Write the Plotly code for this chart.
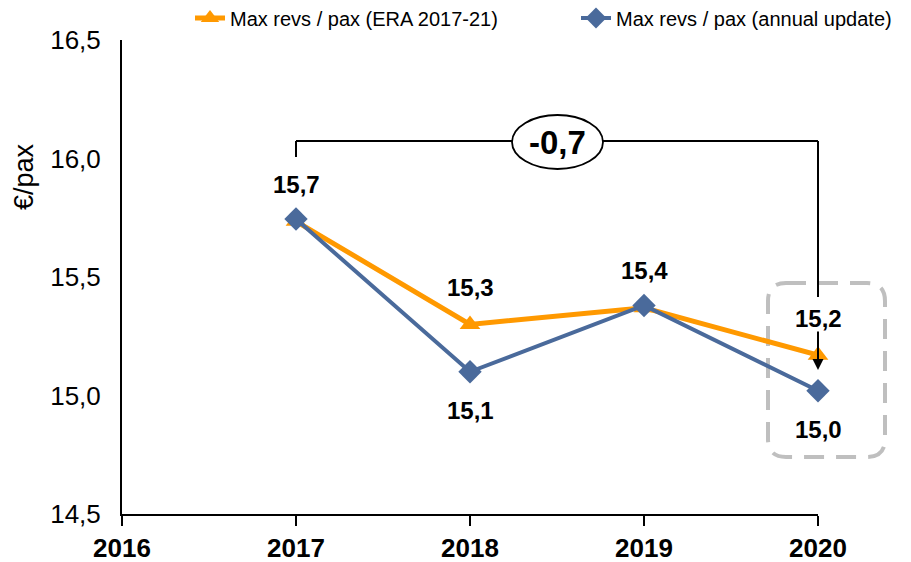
import plotly.graph_objects as go

# ---- data ----
years = [2017, 2018, 2019, 2020]
era_values = [15.735, 15.30, 15.37, 15.17]
annual_values = [15.745, 15.10, 15.38, 15.02]
era_name = "Max revs / pax (ERA 2017-21)"
annual_name = "Max revs / pax (annual update)"
x_ticks = [2016, 2017, 2018, 2019, 2020]
y_ticks = [14.5, 15.0, 15.5, 16.0, 16.5]
delta_text = "-0,7"

ORANGE = "#FF9900"
BLUE = "#4A6A9B"
GREY = "#BFBFBF"
FONT = "Liberation Sans, Arial, sans-serif"
X_RANGE = [2016, 2020]
Y_RANGE = [14.5, 16.5]

W, H = 911, 562
PL, PR, PT, PB = 122, 818, 40, 514  # plot area in pixels
PW, PH = PR - PL, PB - PT


def fmt(v):
    return f"{v:.1f}".replace(".", ",")


def xpix(v):
    return PL + (v - X_RANGE[0]) / (X_RANGE[1] - X_RANGE[0]) * PW


def px(p):  # pixel x -> paper (plot area)
    return (p - PL) / PW


def py(p):  # pixel y (from top) -> paper (plot area)
    return (PB - p) / PH


fig = go.Figure()
fig.add_trace(go.Scatter(
    x=years, y=era_values, name=era_name, mode="lines+markers",
    line=dict(color=ORANGE, width=5),
    marker=dict(symbol="triangle-up", size=18, color=ORANGE),
    cliponaxis=False, legend="legend",
))
fig.add_trace(go.Scatter(
    x=years, y=annual_values, name=annual_name, mode="lines+markers",
    line=dict(color=BLUE, width=4),
    marker=dict(symbol="diamond", size=18, color=BLUE),
    cliponaxis=False, legend="legend2",
))

label_font = dict(family=FONT, size=24, color="black")
annotations = []
for i, (x, v) in enumerate(zip(years, era_values)):
    annotations.append(dict(x=x, y=v, xref="x", yref="y", text=f"<b>{fmt(v)}</b>",
                            showarrow=False, yshift=37, xanchor="center", yanchor="middle",
                            font=label_font))
for i, (x, v) in enumerate(zip(years, annual_values)):
    if i in (1, 3):
        annotations.append(dict(x=x, y=v, xref="x", yref="y", text=f"<b>{fmt(v)}</b>",
                                showarrow=False, yshift=-39, xanchor="center", yanchor="middle",
                                font=label_font))

# bracket between 2017 and 2020
bracket_px = 141
x17, x20 = xpix(years[0]), xpix(years[-1])
shapes = []
shapes.append(dict(type="line", xref="paper", yref="paper",
                   x0=px(x17), x1=px(x17), y0=py(bracket_px), y1=py(bracket_px + 16),
                   line=dict(color="black", width=2)))
shapes.append(dict(type="line", xref="paper", yref="paper",
                   x0=px(x17), x1=px(x20), y0=py(bracket_px), y1=py(bracket_px),
                   line=dict(color="black", width=2)))
shapes.append(dict(type="line", xref="paper", yref="paper",
                   x0=px(x20), x1=px(x20), y0=py(bracket_px), y1=py(297),
                   line=dict(color="black", width=2)))
# ellipse with delta
ecx, ecy = 557, bracket_px + 1
shapes.append(dict(type="circle", xref="paper", yref="paper",
                   x0=px(ecx - 45), x1=px(ecx + 46), y0=py(ecy + 27), y1=py(ecy - 27),
                   line=dict(color="black", width=1.8), fillcolor="white"))
annotations.append(dict(x=px(ecx), y=py(ecy), xref="paper", yref="paper", text=f"<b>{delta_text}</b>",
                        showarrow=False, xanchor="center", yanchor="middle",
                        font=dict(family=FONT, size=33, color="black")))
# arrow pointing to the 2020 ERA value
annotations.append(dict(x=px(x20), y=py(370), xref="paper", yref="paper", text="",
                        showarrow=True, arrowhead=2, arrowsize=1.1, arrowwidth=2, arrowcolor="black",
                        ax=0, ay=-40, standoff=0))

# dashed rounded rectangle around 2020 values
bx0, bx1, by0, by1 = x20 - 50, x20 + 67, 283, 457
r = 18
path = (f"M {px(bx0 + r)},{py(by0)} L {px(bx1 - r)},{py(by0)} Q {px(bx1)},{py(by0)} {px(bx1)},{py(by0 + r)} "
        f"L {px(bx1)},{py(by1 - r)} Q {px(bx1)},{py(by1)} {px(bx1 - r)},{py(by1)} "
        f"L {px(bx0 + r)},{py(by1)} Q {px(bx0)},{py(by1)} {px(bx0)},{py(by1 - r)} "
        f"L {px(bx0)},{py(by0 + r)} Q {px(bx0)},{py(by0)} {px(bx0 + r)},{py(by0)} Z")
shapes.append(dict(type="path", xref="paper", yref="paper", path=path,
                   line=dict(color=GREY, width=4, dash="20px,12px"), layer="below"))

# y-axis title
annotations.append(dict(x=px(24), y=py(177), xref="paper", yref="paper", text="€/pax",
                        textangle=-90, showarrow=False, xanchor="center", yanchor="middle",
                        font=dict(family=FONT, size=27, color="black")))

legend_common = dict(orientation="h", xref="container", yref="container", xanchor="left",
                     y=1 - 18 / H, yanchor="middle",
                     font=dict(family=FONT, size=20, color="black"),
                     bgcolor="rgba(0,0,0,0)", borderwidth=0)

fig.update_layout(
    width=W, height=H,
    margin=dict(l=PL, r=W - PR, t=PT, b=H - PB, pad=0),
    paper_bgcolor="white", plot_bgcolor="white",
    separators=",.",
    showlegend=True,
    legend=dict(x=190 / W, **legend_common),
    legend2=dict(x=576 / W, **legend_common),
    xaxis=dict(range=X_RANGE, tickvals=x_ticks, ticktext=[str(t) for t in x_ticks],
               showgrid=False, zeroline=False, showline=True, linecolor="black", linewidth=2,
               ticks="outside", ticklen=10, tickwidth=1.5, tickcolor="black",
               ticklabelstandoff=0, automargin=False,
               tickfont=dict(family=FONT, size=26, color="black", weight="bold")),
    yaxis=dict(range=Y_RANGE, tickvals=y_ticks, tickformat=".1f",
               showgrid=False, zeroline=False, showline=True, linecolor="black", linewidth=2,
               ticks="", ticklabelstandoff=14, automargin=False,
               tickfont=dict(family=FONT, size=26, color="black")),
    shapes=shapes,
    annotations=annotations,
)

fig.write_html("out.html", config={"displayModeBar": False},
               post_script="document.body.style.margin='0';document.body.style.overflow='hidden';")
